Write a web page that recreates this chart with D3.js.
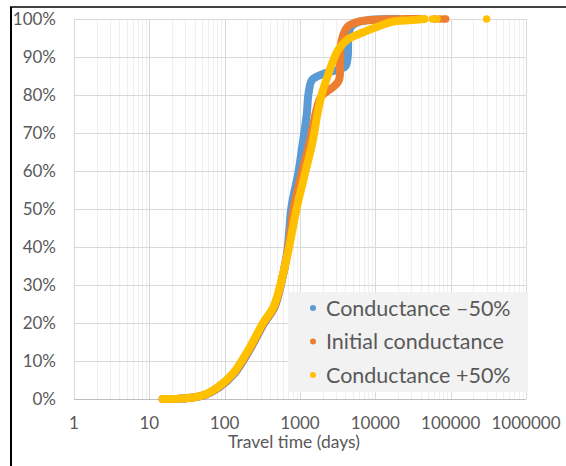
<!DOCTYPE html>
<html>
<head>
<meta charset="utf-8">
<script src="https://cdn.jsdelivr.net/npm/d3@7"></script>
<style>
  body { margin: 0; background: #fff; }
  text { font-family: Lato, "Open Sans", sans-serif; fill: #595959; }
</style>
</head>
<body>
<svg id="chart" width="566" height="466"></svg>
<script>
// series: travel time (days) vs cumulative %
const seriesNames = ["Conductance \u201350%", "Initial conductance", "Conductance +50%"];
const seriesColors = ["#5B9BD5", "#ED7D31", "#FFC000"];

const lowTime = [15, 25, 38, 57, 84, 136, 226, 336, 455, 550, 680, 770, 950, 1100, 1230, 1300, 1450, 2000, 3000, 4000, 4300, 4350, 4450, 4800, 5600, 8000, 13000, 20000];
const lowPct  = [0, 0.1, 0.4, 1.2, 3, 6.8, 13.7, 20, 24, 29.5, 39, 50.5, 59.5, 68, 75, 80.5, 84, 85.5, 86.5, 87.5, 90, 94, 96.5, 98, 99, 99.7, 99.95, 100];

const initTime = [15, 25, 38, 56, 82, 133, 222, 330, 450, 545, 690, 830, 1060, 1360, 1650, 1900, 2300, 2900, 3300, 3400, 3450, 3700, 4300, 6000, 10000, 20000, 40000];
const initPct  = [0, 0.1, 0.4, 1.2, 3, 6.8, 13.7, 20, 24, 29.5, 39, 50.5, 59.5, 68, 76, 79.5, 81, 82.5, 84, 88, 92.5, 95.5, 98, 99.3, 99.8, 99.95, 100];
const initTail = [62000, 72000, 80000, 86000];

const highTime = [15, 25, 38, 55, 80, 130, 217, 323, 440, 540, 700, 910, 1170, 1480, 1740, 2000, 2300, 2750, 3200, 4200, 6900, 10500, 16000, 30000, 45000];
const highPct  = [0, 0.1, 0.4, 1.2, 3, 6.8, 13.7, 20, 24, 29.5, 39, 50.5, 59.5, 68, 76, 81, 84.7, 89, 91.8, 94.5, 96.5, 97.9, 99.2, 99.7, 100];
const highTail = [57000, 66000, 300000];

const xTicks = [1, 10, 100, 1000, 10000, 100000, 1000000];
const yTicks = [0, 10, 20, 30, 40, 50, 60, 70, 80, 90, 100];

const svg = d3.select("#chart");

// outer frame (only top and left visible)
svg.append("line").attr("x1", 10).attr("x2", 566).attr("y1", 7).attr("y2", 7)
  .attr("stroke", "#000").attr("stroke-width", 1.5);
svg.append("line").attr("x1", 11).attr("x2", 11).attr("y1", 7).attr("y2", 466)
  .attr("stroke", "#000").attr("stroke-width", 2);

const plotL = 74, plotR = 526, plotT = 19, plotB = 399;
const x = d3.scaleLog().domain([1, 1000000]).range([plotL, plotR]);
const y = d3.scaleLinear().domain([0, 100]).range([plotB, plotT]);

// minor grid
const minor = [];
for (let dec = 1; dec < 1000000; dec *= 10) {
  for (let k = 2; k <= 9; k++) minor.push(dec * k);
}
svg.append("g").selectAll("line").data(minor).join("line")
  .attr("x1", d => Math.round(x(d)) + 0.5).attr("x2", d => Math.round(x(d)) + 0.5)
  .attr("y1", plotT).attr("y2", plotB)
  .attr("stroke", "#efefef");

// major grid
svg.append("g").selectAll("line").data(xTicks).join("line")
  .attr("x1", d => Math.round(x(d)) + 0.5).attr("x2", d => Math.round(x(d)) + 0.5)
  .attr("y1", plotT).attr("y2", plotB)
  .attr("stroke", "#d9d9d9");
svg.append("g").selectAll("line").data(yTicks).join("line")
  .attr("x1", plotL).attr("x2", plotR)
  .attr("y1", d => Math.round(y(d)) + 0.5).attr("y2", d => Math.round(y(d)) + 0.5)
  .attr("stroke", d => d === 0 ? "#bfbfbf" : "#d9d9d9");

// tick labels
svg.append("g").selectAll("text").data(yTicks).join("text")
  .attr("x", 56).attr("y", d => y(d) + 6)
  .attr("text-anchor", "end").attr("font-size", 17)
  .text(d => d + "%");
svg.append("g").selectAll("text").data(xTicks).join("text")
  .attr("x", d => x(d)).attr("y", 429)
  .attr("text-anchor", "middle").attr("font-size", 17)
  .text(d => d);
svg.append("text").attr("x", 294).attr("y", 448)
  .attr("text-anchor", "middle").attr("font-size", 17.5)
  .text("Travel time (days)");

// curves
const line = d3.line()
  .x(d => x(d[0])).y(d => y(d[1]))
  .curve(d3.curveCatmullRom.alpha(0.5));

const series = [
  { t: lowTime, p: lowPct, tail: [] },
  { t: initTime, p: initPct, tail: initTail },
  { t: highTime, p: highPct, tail: highTail }
];

series.forEach((s, i) => {
  const pts = s.t.map((t, j) => [t, s.p[j]]);
  svg.append("path").datum(pts)
    .attr("d", line)
    .attr("fill", "none")
    .attr("stroke", seriesColors[i])
    .attr("stroke-width", 8)
    .attr("stroke-linecap", "round")
    .attr("stroke-linejoin", "round");
  svg.append("g").selectAll("circle").data(s.tail).join("circle")
    .attr("cx", d => x(d)).attr("cy", y(100)).attr("r", 3.7)
    .attr("fill", seriesColors[i]);
});

// legend
const lg = svg.append("g");
lg.append("rect").attr("x", 288).attr("y", 292).attr("width", 240).attr("height", 100)
  .attr("fill", "#f2f2f2");
seriesNames.forEach((name, i) => {
  const cy = 308 + i * 33.5;
  lg.append("circle").attr("cx", 313).attr("cy", cy).attr("r", 3).attr("fill", seriesColors[i]);
  lg.append("text").attr("x", 326).attr("y", cy + 7.5).attr("font-size", 21.5).text(name);
});
</script>
</body>
</html>
